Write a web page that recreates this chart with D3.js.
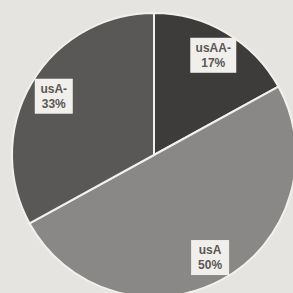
<!DOCTYPE html>
<html>
<head>
<meta charset="utf-8">
<script src="https://cdn.jsdelivr.net/npm/d3@7"></script>
<style>
  html, body { margin: 0; padding: 0; background: #e6e4e0; }
  svg { display: block; }
</style>
</head>
<body>
<div id="chart"></div>
<script>
const labels = ["usAA-", "usA", "usA-"];
const shares = [17, 50, 33];
const colors = ["#3e3c3a", "#8a8886", "#5a5856"];

const width = 293, height = 293;
const cx = 154, cy = 155, radius = 142;

const svg = d3.select("#chart")
    .append("svg")
    .attr("width", width)
    .attr("height", height);

svg.append("rect")
    .attr("width", width)
    .attr("height", height)
    .attr("fill", "#e6e4e0");

const g = svg.append("g")
    .attr("transform", `translate(${cx}, ${cy})`);

const pie = d3.pie().sort(null).value(d => d);
const arcs = pie(shares);

const arc = d3.arc().innerRadius(0).outerRadius(radius);
const labelArc = d3.arc().innerRadius(radius * 0.82).outerRadius(radius * 0.82);

g.selectAll("path")
    .data(arcs)
    .enter()
    .append("path")
    .attr("d", arc)
    .attr("fill", (d, i) => colors[i])
    .attr("stroke", "#f2f0ec")
    .attr("stroke-width", 2);

const label = g.selectAll(".lbl")
    .data(arcs)
    .enter()
    .append("g")
    .attr("class", "lbl")
    .attr("transform", d => `translate(${labelArc.centroid(d)})`);

label.append("rect")
    .attr("x", (d, i) => i === 0 ? -23 : -19)
    .attr("y", -17)
    .attr("width", (d, i) => i === 0 ? 46 : 38)
    .attr("height", 35)
    .attr("fill", "#f1efeb");

label.append("text")
    .attr("text-anchor", "middle")
    .attr("y", -3)
    .attr("font-family", "Liberation Sans, Arial, sans-serif")
    .attr("font-size", 12)
    .attr("font-weight", "bold")
    .attr("fill", "#5a5855")
    .text((d, i) => labels[i]);

label.append("text")
    .attr("text-anchor", "middle")
    .attr("y", 12)
    .attr("font-family", "Liberation Sans, Arial, sans-serif")
    .attr("font-size", 12)
    .attr("font-weight", "bold")
    .attr("fill", "#5a5855")
    .text((d, i) => shares[i] + "%");
</script>
</body>
</html>
